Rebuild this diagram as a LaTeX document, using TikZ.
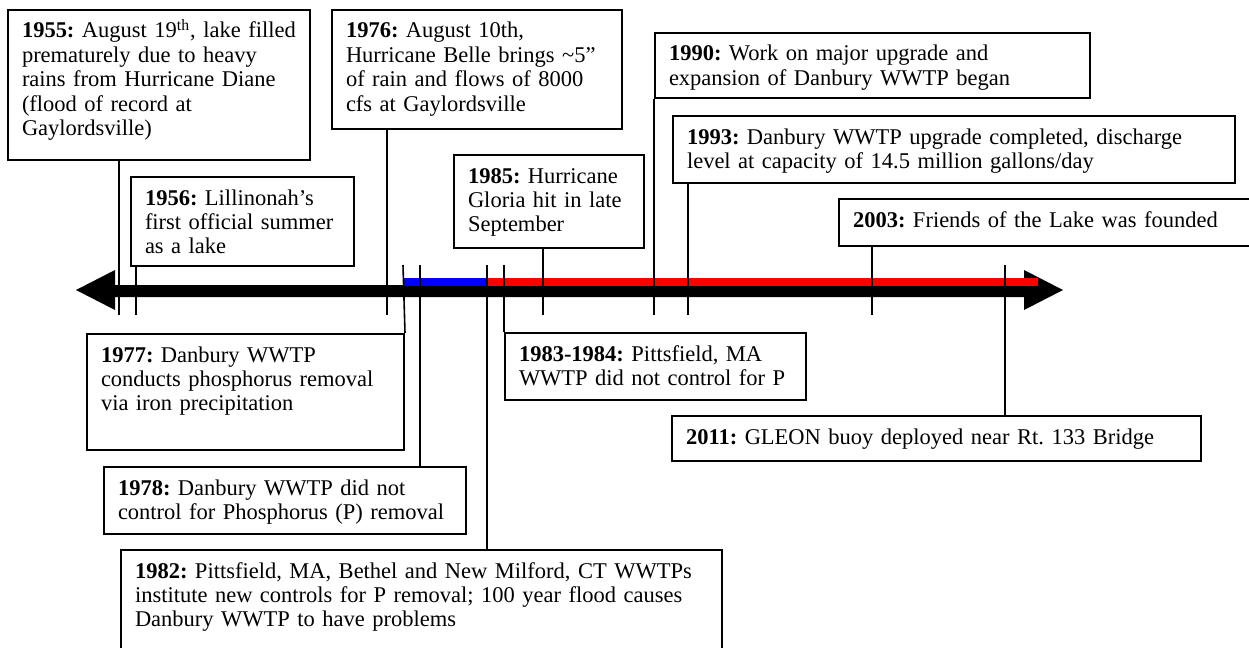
\documentclass[tikz,border=0pt]{standalone}
\usepackage{fontspec}
\setmainfont{Liberation Serif}
\frenchspacing
\begin{document}
\begin{tikzpicture}[x=0.5pt,y=-0.5pt,
    ev/.style={draw,line width=1pt,anchor=north west,align=left,inner xsep=7pt,
      inner ysep=0pt,text height=14pt,font=\fontsize{11.25pt}{12.2pt}\selectfont\frenchspacing},
    tk/.style={line width=0.8pt}]
\useasboundingbox (0,0) rectangle (1249,648);
\fill (76,290) -- (115,270) -- (115,285) -- (1024,285) -- (1024,270) -- (1063,290)
  -- (1024,310) -- (1024,297) -- (115,297) -- (115,310) -- cycle;
\fill[blue] (403,278) rectangle (487,286);
\fill[red] (487,278) rectangle (1038,286);

\node[ev,text width=137pt,text depth=61pt] (b55) at (7,9)
  {\textbf{1955:} August 19\textsuperscript{th}, lake filled\\prematurely due to heavy\\rains from Hurricane Diane\\(flood of record at\\Gaylordsville)};
\node[ev,text width=131pt,text depth=45.5pt] (b76) at (331,9)
  {\textbf{1976:} August 10th,\\Hurricane Belle brings \textasciitilde5”\\of rain and flows of 8000\\cfs at Gaylordsville};
\node[ev,text width=203.5pt,text depth=18.5pt] (b90) at (654,32)
  {\textbf{1990:} Work on major upgrade and\\expansion of Danbury WWTP began};
\node[ev,text width=267pt,text depth=19.5pt] (b93) at (672,115)
  {\textbf{1993:} Danbury WWTP upgrade completed, discharge\\level at capacity of 14.5 million gallons/day};
\node[ev,text width=191.5pt,text depth=9.5pt] (b03) at (838,198)
  {\textbf{2003:} Friends of the Lake was founded};
\node[ev,text width=97.5pt,text depth=30.5pt] (b56) at (130,176)
  {\textbf{1956:} Lillinonah's\\first official summer\\as a lake};
\node[ev,text width=81pt,text depth=32.5pt] (b85) at (453,154)
  {\textbf{1985:} Hurricane\\Gloria hit in late\\September};
\node[ev,text width=144.5pt,text depth=44pt] (b77) at (86,333)
  {\textbf{1977:} Danbury WWTP\\conducts phosphorus removal\\via iron precipitation};
\node[ev,text width=136.5pt,text depth=19.5pt] (b83) at (504,332)
  {\textbf{1983-1984:} Pittsfield, MA\\WWTP did not control for P};
\node[ev,text width=250.5pt,text depth=8.5pt] (b11) at (671,415)
  {\textbf{2011:} GLEON buoy deployed near Rt. 133 Bridge};
\node[ev,text width=167pt,text depth=19.5pt] (b78) at (103,466)
  {\textbf{1978:} Danbury WWTP did not\\control for Phosphorus (P) removal};
\node[ev,text width=286.5pt,text depth=37.5pt] (b82) at (120,549)
  {\textbf{1982:} Pittsfield, MA, Bethel and New Milford, CT WWTPs\\institute new controls for P removal; 100 year flood causes\\Danbury WWTP to have problems};

\coordinate (a55) at (119,315);
\coordinate (a56) at (136,315);
\coordinate (a76) at (387,315);
\coordinate (a85) at (543,315);
\coordinate (a90) at (654,315);
\coordinate (a93) at (688,315);
\coordinate (a03) at (872,315);
\coordinate (a77) at (403,265);
\coordinate (a78) at (420,265);
\coordinate (a82) at (487,265);
\coordinate (a83) at (504,265);
\coordinate (a11) at (1005,265);

\draw[tk] (b55.south -| a55) -- (a55);
\draw[tk] (b56.south -| a56) -- (a56);
\draw[tk] (b76.south -| a76) -- (a76);
\draw[tk] (b85.south -| a85) -- (a85);
\draw[tk] (b90.south west) -- (a90);
\draw[tk] (b93.south -| a93) -- (a93);
\draw[tk] (b03.south -| a03) -- (a03);
\draw[tk] (a77) -- (b77.north east);
\draw[tk] (a78) -- (a78 |- b78.north);
\draw[tk] (a82) -- (a82 |- b82.north);
\draw[tk] (a83) -- (b83.north west);
\draw[tk] (a11) -- (a11 |- b11.north);
\end{tikzpicture}
\end{document}
